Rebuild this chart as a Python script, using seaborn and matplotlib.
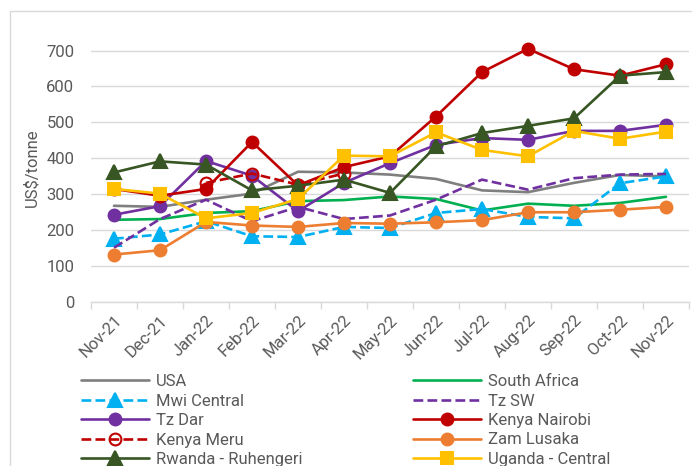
import matplotlib
matplotlib.use("Agg")
import matplotlib.pyplot as plt
import seaborn as sns
import pandas as pd
import numpy as np
from matplotlib.patches import Rectangle
from matplotlib.ticker import FixedLocator

months = ["Nov-21", "Dec-21", "Jan-22", "Feb-22", "Mar-22", "Apr-22", "May-22",
          "Jun-22", "Jul-22", "Aug-22", "Sep-22", "Oct-22", "Nov-22"]

usa = [267, 264, 284, 301, 362, 360, 354, 342, 310, 305, 331, 353, 349]
south_africa = [228, 230, 247, 252, 280, 283, 293, 286, 254, 273, 267, 275, 292]
mwi_central = [175, 187, 224, 182, 180, 208, 205, 247, 258, 236, 232, 330, 349]
tz_sw = [150, 230, 284, 224, 264, 230, 240, 284, 340, 312, 344, 354, 356]
tz_dar = [242, 266, 392, 351, 252, 331, 386, 437, 456, 451, 476, 476, 493]
kenya_nairobi = [314, 295, 314, 445, 324, 375, 405, 516, 640, 705, 648, 630, 662]
kenya_meru = [np.nan, np.nan, 331, 357, 326, 357, np.nan, np.nan, np.nan, np.nan, np.nan, np.nan, np.nan]
zam_lusaka = [131, 143, 222, 212, 208, 219, 217, 221, 227, 249, 249, 256, 264]
rwanda = [360, 391, 382, 310, 323, 340, 303, 433, 470, 490, 511, 630, 640]
uganda = [314, 301, 232, 247, 286, 407, 405, 472, 423, 405, 476, 454, 474]

series_names = ["USA", "South Africa", "Mwi Central", "Tz SW", "Tz Dar",
                "Kenya Nairobi", "Kenya Meru", "Zam Lusaka",
                "Rwanda - Ruhengeri", "Uganda - Central"]
series_values = [usa, south_africa, mwi_central, tz_sw, tz_dar,
                 kenya_nairobi, kenya_meru, zam_lusaka, rwanda, uganda]

styles = {
    "USA": dict(color="#7f7f7f", ls="-", marker=None, mfc=None),
    "South Africa": dict(color="#00b050", ls="-", marker=None, mfc=None),
    "Mwi Central": dict(color="#00b0f0", ls="--", marker="^", mfc="#00b0f0"),
    "Tz SW": dict(color="#7030a0", ls="--", marker=None, mfc=None),
    "Tz Dar": dict(color="#7030a0", ls="-", marker="o", mfc="#7030a0"),
    "Kenya Nairobi": dict(color="#c00000", ls="-", marker="o", mfc="#c00000"),
    "Kenya Meru": dict(color="#c00000", ls="--", marker="o", mfc="none"),
    "Zam Lusaka": dict(color="#ed7d31", ls="-", marker="o", mfc="#ed7d31"),
    "Rwanda - Ruhengeri": dict(color="#375623", ls="-", marker="^", mfc="#375623"),
    "Uganda - Central": dict(color="#ffc000", ls="-", marker="s", mfc="#ffc000"),
}

sns.set_style("white")
plt.rcParams['font.family'] = ['Roboto', 'DejaVu Sans']
FS = 12.0

fig = plt.figure(figsize=(6.92, 4.66), dpi=100)
W, H = 692, 466
ax = fig.add_axes([91 / W, 1 - 301.5 / H, (689 - 91) / W, 276 / H])

# outer chart border
fig.patches.append(Rectangle((10 / W, -0.1), 1.5, 1 - 11 / H + 0.1,
                             transform=fig.transFigure, fill=False,
                             edgecolor="#d9d9d9", linewidth=1.0))

xpos = list(range(len(months)))
handles = {}
for name, vals in zip(series_names, series_values):
    st = styles[name]
    df = pd.DataFrame({"x": xpos, "y": vals}).dropna()
    kw = dict(color=st["color"], linestyle=st["ls"], linewidth=1.9)
    if st["marker"]:
        ms = {"^": 9.5, "o": 8.5, "s": 8}[st["marker"]]
        kw.update(marker=st["marker"], markersize=ms,
                  markerfacecolor=st["mfc"], markeredgecolor=st["color"],
                  markeredgewidth=1.5)
    sns.lineplot(data=df, x="x", y="y", ax=ax, sort=False, label=name,
                 legend=False, **kw)
    handles[name] = ax.lines[-1]

ax.set_xlim(-0.5, len(months) - 0.5)
ax.set_ylim(0, 770)
ax.set_yticks(range(0, 701, 100))
ax.set_xticks(xpos)
ax.set_xticklabels(months, rotation=45, ha="right", rotation_mode="anchor")
ax.xaxis.set_minor_locator(FixedLocator(np.arange(-0.5, len(months), 1)))
ax.tick_params(axis="x", which="major", length=0, pad=8, labelsize=FS, colors="#595959")
ax.tick_params(axis="x", which="minor", length=5, width=1, color="#d9d9d9", bottom=True)
ax.tick_params(axis="y", length=0, pad=12, labelsize=FS, colors="#595959")
ax.grid(axis="y", color="#d9d9d9", linewidth=1)
ax.set_axisbelow(True)
for s in ["top", "right", "left"]:
    ax.spines[s].set_visible(False)
ax.spines["bottom"].set_color("#d9d9d9")
ax.spines["bottom"].set_linewidth(1)
ax.set_xlabel("")
ax.set_ylabel("US$/tonne", fontsize=FS, color="#595959")
ax.yaxis.set_label_coords((39 - 91) / (689 - 91), (301.5 - 168) / 276)

col1 = ["USA", "Mwi Central", "Tz Dar", "Kenya Meru", "Rwanda - Ruhengeri"]
col2 = ["South Africa", "Tz SW", "Kenya Nairobi", "Zam Lusaka", "Uganda - Central"]
order = col1 + col2
leg = fig.legend([handles[n] for n in order], order, ncol=2,
                 loc="upper left", bbox_to_anchor=(81 / W, 1 - 374 / H),
                 frameon=False, fontsize=FS, labelcolor="#595959",
                 handlelength=4.1, handletextpad=0.42, labelspacing=0.27,
                 columnspacing=6.6, borderpad=0, borderaxespad=0)

fig.savefig("out.png", dpi=100)
